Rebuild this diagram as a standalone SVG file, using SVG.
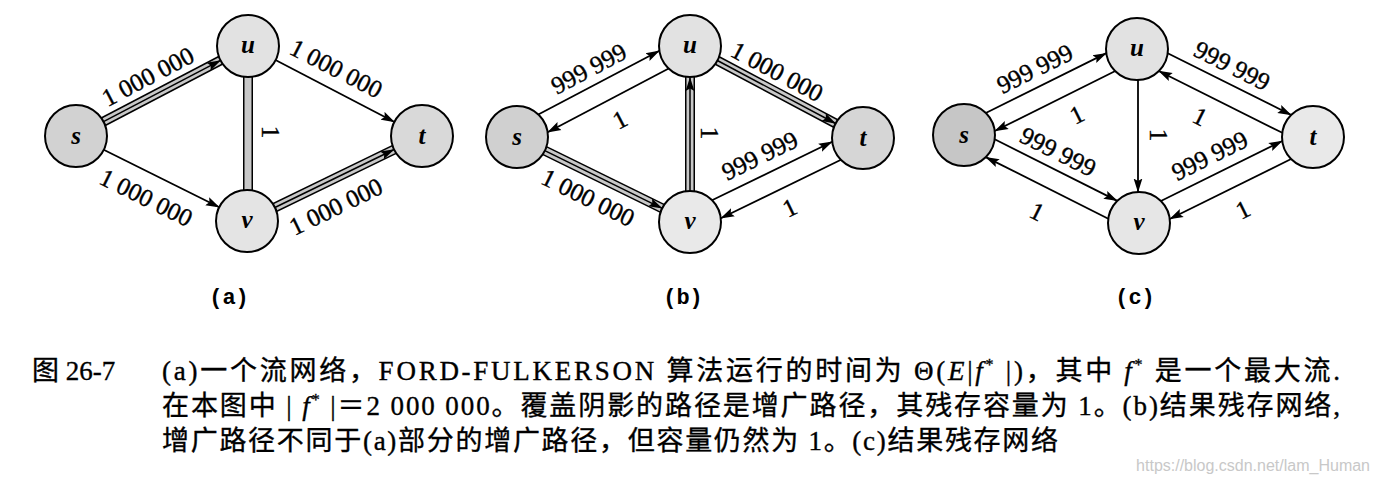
<svg xmlns="http://www.w3.org/2000/svg" width="1376" height="484" viewBox="0 0 1376 484">
<style>
.edge{stroke:#000;stroke-width:1.8;fill:none}
.bo{stroke:#000;stroke-width:10;fill:none}
.bi{stroke:#c8c8c8;stroke-width:7;fill:none}
.bc{stroke:#000;stroke-width:1.5;fill:none}
.node circle{stroke:#000;stroke-width:2}
.nl{font-family:"Liberation Serif",serif;font-size:25px;font-style:italic;font-weight:bold;text-anchor:middle}
.el{font-family:"Liberation Serif",serif;font-size:25px;text-anchor:middle;stroke:#000;stroke-width:0.4}
.pl{font-family:"Liberation Mono",monospace;font-size:22px;font-weight:bold;text-anchor:middle}
.cap{font-family:"Liberation Serif","Noto Sans CJK SC",serif;font-size:27px;stroke:#000;stroke-width:0.35}
.wm{font-family:"Liberation Sans",sans-serif;font-size:16px;fill:#c8c8c8;text-anchor:end}
</style>
<defs>
<marker id="ah" markerUnits="userSpaceOnUse" markerWidth="14" markerHeight="10" refX="13.5" refY="5" orient="auto">
<path d="M0,0.6 L14,5 L0,9.4 L2.5,5 z" fill="#000"/>
</marker>
</defs>
<rect width="1376" height="484" fill="#fff"/>

<g id="connectors">
  <g id="a-edges">
    <line class="bo" x1="76" y1="136" x2="248" y2="46"/>
    <line class="bi" x1="76" y1="136" x2="248" y2="46"/>
    <line class="bc" x1="103.5" y1="121.6" x2="220.5" y2="60.4" marker-end="url(#ah)"/>
    <line class="edge" x1="275.5" y1="60" x2="394.5" y2="122" marker-end="url(#ah)"/>
    <line class="edge" x1="103.7" y1="149.8" x2="219.3" y2="207.2" marker-end="url(#ah)"/>
    <line class="bo" x1="247" y1="221" x2="422" y2="136"/>
    <line class="bi" x1="247" y1="221" x2="422" y2="136"/>
    <line class="bc" x1="274.9" y1="207.5" x2="394.1" y2="149.5" marker-end="url(#ah)"/>
    <line class="bo" x1="248" y1="46" x2="248" y2="221"/>
    <line class="bi" x1="248" y1="46" x2="248" y2="221"/>
  </g>
  <g id="b-edges">
    <line class="edge" x1="538.3" y1="114.5" x2="659.4" y2="50.8" marker-end="url(#ah)"/>
    <line class="edge" x1="668.7" y1="68.5" x2="547.6" y2="132.3" marker-end="url(#ah)"/>
    <line class="bo" x1="690" y1="46" x2="863" y2="138"/>
    <line class="bi" x1="690" y1="46" x2="863" y2="138"/>
    <line class="bc" x1="717.4" y1="60.5" x2="835.6" y2="123.5" marker-end="url(#ah)"/>
    <line class="bo" x1="517" y1="137" x2="690" y2="222"/>
    <line class="bi" x1="517" y1="137" x2="690" y2="222"/>
    <line class="bc" x1="544.8" y1="150.7" x2="662.2" y2="208.3" marker-end="url(#ah)"/>
    <line class="bo" x1="690" y1="46" x2="690" y2="222"/>
    <line class="bi" x1="690" y1="46" x2="690" y2="222"/>
    <line class="bc" x1="690" y1="191" x2="690" y2="77.5" marker-end="url(#ah)"/>
    <line class="edge" x1="712" y1="200.2" x2="832.2" y2="141.8" marker-end="url(#ah)"/>
    <line class="edge" x1="841" y1="159.8" x2="720.8" y2="218.2" marker-end="url(#ah)"/>
  </g>
  <g id="c-edges">
    <line class="edge" x1="985.8" y1="113" x2="1106.4" y2="53.1" marker-end="url(#ah)"/>
    <line class="edge" x1="1115.3" y1="71" x2="994.7" y2="131" marker-end="url(#ah)"/>
    <line class="edge" x1="1167.7" y1="53.2" x2="1291.3" y2="115" marker-end="url(#ah)"/>
    <line class="edge" x1="1282.3" y1="132.8" x2="1158.7" y2="71" marker-end="url(#ah)"/>
    <line class="edge" x1="1138" y1="80" x2="1138" y2="192" marker-end="url(#ah)"/>
    <line class="edge" x1="994.7" y1="139.2" x2="1117.3" y2="200.9" marker-end="url(#ah)"/>
    <line class="edge" x1="1108.3" y1="218.7" x2="985.7" y2="157.1" marker-end="url(#ah)"/>
    <line class="edge" x1="1160.9" y1="201" x2="1282.3" y2="141" marker-end="url(#ah)"/>
    <line class="edge" x1="1291.1" y1="159" x2="1169.7" y2="219" marker-end="url(#ah)"/>
  </g>
  <g id="edge-labels">
    <text class="el" transform="translate(148,77) rotate(-27.6)" y="8">1 000 000</text>
    <text class="el" transform="translate(336,69) rotate(27.3)" y="8">1 000 000</text>
    <text class="el" transform="translate(146,198) rotate(26.4)" y="8">1 000 000</text>
    <text class="el" transform="translate(336,207) rotate(-25.9)" y="8">1 000 000</text>
    <text class="el" transform="translate(270,132) rotate(90)" y="8">1</text>

    <text class="el" transform="translate(589,69) rotate(-27.7)" y="8">999 999</text>
    <text class="el" transform="translate(620,120) rotate(-27.7)" y="8">1</text>
    <text class="el" transform="translate(777,72) rotate(28)" y="8">1 000 000</text>
    <text class="el" transform="translate(588,198) rotate(26.2)" y="8">1 000 000</text>
    <text class="el" transform="translate(709,133) rotate(90)" y="8">1</text>
    <text class="el" transform="translate(760,156) rotate(-25.9)" y="8">999 999</text>
    <text class="el" transform="translate(790,208) rotate(-25.9)" y="8">1</text>

    <text class="el" transform="translate(1035,69) rotate(-26.4)" y="8">999 999</text>
    <text class="el" transform="translate(1077,115) rotate(-26.4)" y="8">1</text>
    <text class="el" transform="translate(1232,66) rotate(26.6)" y="8">999 999</text>
    <text class="el" transform="translate(1200,117) rotate(26.6)" y="8">1</text>
    <text class="el" transform="translate(1158,135) rotate(90)" y="8">1</text>
    <text class="el" transform="translate(1058,152) rotate(26.7)" y="8">999 999</text>
    <text class="el" transform="translate(1037,212) rotate(26.7)" y="8">1</text>
    <text class="el" transform="translate(1210,156) rotate(-26.3)" y="8">999 999</text>
    <text class="el" transform="translate(1243,210) rotate(-26.3)" y="8">1</text>
  </g>
</g>

<g id="a-s" class="node"><circle cx="76" cy="136" r="31" fill="#d2d2d2"/><text class="nl" x="76" y="144">s</text></g>
<g id="a-u" class="node"><circle cx="248" cy="46" r="31" fill="#e2e2e2"/><text class="nl" x="248" y="53">u</text></g>
<g id="a-v" class="node"><circle cx="247" cy="221" r="31" fill="#e4e4e4"/><text class="nl" x="247" y="228">v</text></g>
<g id="a-t" class="node"><circle cx="422" cy="136" r="31" fill="#d9d9d9"/><text class="nl" x="422" y="144">t</text></g>

<g id="b-s" class="node"><circle cx="517" cy="137" r="31" fill="#d0d0d0"/><text class="nl" x="517" y="145">s</text></g>
<g id="b-u" class="node"><circle cx="690" cy="46" r="31" fill="#e2e2e2"/><text class="nl" x="690" y="53">u</text></g>
<g id="b-v" class="node"><circle cx="690" cy="222" r="31" fill="#e9e9e9"/><text class="nl" x="690" y="229">v</text></g>
<g id="b-t" class="node"><circle cx="863" cy="138" r="31" fill="#d6d6d6"/><text class="nl" x="863" y="146">t</text></g>

<g id="c-s" class="node"><circle cx="964" cy="135" r="31" fill="#c6c6c6"/><text class="nl" x="964" y="143">s</text></g>
<g id="c-u" class="node"><circle cx="1137" cy="49" r="31" fill="#e2e2e2"/><text class="nl" x="1137" y="56">u</text></g>
<g id="c-v" class="node"><circle cx="1139" cy="223" r="31" fill="#e6e6e6"/><text class="nl" x="1139" y="230">v</text></g>
<g id="c-t" class="node"><circle cx="1313" cy="137" r="31" fill="#e9e9e9"/><text class="nl" x="1313" y="145">t</text></g>

<g id="panel-labels">
  <text class="pl" x="229" y="304">(a)</text>
  <text class="pl" x="683" y="304">(b)</text>
  <text class="pl" x="1135" y="304">(c)</text>
</g>

<g id="caption">
  <text class="cap" x="32" y="380">图 26-7</text>
  <text class="cap" x="162" y="380" textLength="1178" lengthAdjust="spacing">(a)一个流网络，FORD-FULKERSON 算法运行的时间为 Θ(<tspan font-style="italic">E</tspan>|<tspan font-style="italic">f</tspan><tspan font-size="16" dy="-10">*</tspan><tspan dy="10"> |)，其中 </tspan><tspan font-style="italic">f</tspan><tspan font-size="16" dy="-10">*</tspan><tspan dy="10"> 是一个最大流.</tspan></text>
  <text class="cap" x="162" y="415" textLength="1178" lengthAdjust="spacing">在本图中 | <tspan font-style="italic">f</tspan><tspan font-size="16" dy="-10">*</tspan><tspan dy="10"> |＝2 000 000。覆盖阴影的路径是增广路径，其残存容量为 1。(b)结果残存网络,</tspan></text>
  <text class="cap" x="162" y="450" textLength="896" lengthAdjust="spacing">增广路径不同于(a)部分的增广路径，但容量仍然为 1。(c)结果残存网络</text>
</g>
<text class="wm" x="1370" y="471">https://blog.csdn.net/lam_Human</text>
</svg>
